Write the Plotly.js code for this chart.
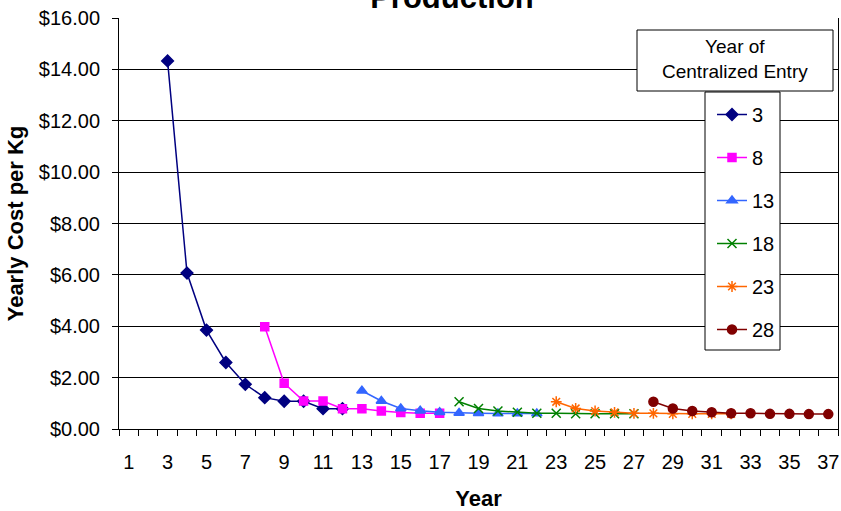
<!DOCTYPE html>
<html>
<head>
<meta charset="utf-8">
<script src="https://cdn.plot.ly/plotly-3.0.1.min.js"></script>
<style>html,body{margin:0;padding:0;background:#fff;}#chart{width:841px;height:511px;}</style>
</head>
<body>
<div id="chart"></div>
<script>
// ---- data ----
var seriesNames = ['3', '8', '13', '18', '23', '28'];
var years3  = [3, 4, 5, 6, 7, 8, 9, 10, 11, 12];
var cost3   = [14.33, 6.07, 3.85, 2.59, 1.74, 1.22, 1.08, 1.08, 0.79, 0.79];
var years8  = [8, 9, 10, 11, 12, 13, 14, 15, 16, 17];
var cost8   = [3.98, 1.78, 1.09, 1.09, 0.79, 0.79, 0.70, 0.64, 0.61, 0.61];
var years13 = [13, 14, 15, 16, 17, 18, 19, 20, 21, 22];
var cost13  = [1.49, 1.09, 0.80, 0.71, 0.65, 0.62, 0.61, 0.60, 0.60, 0.60];
var years18 = [18, 19, 20, 21, 22, 23, 24, 25, 26, 27];
var cost18  = [1.06, 0.80, 0.70, 0.65, 0.61, 0.61, 0.59, 0.59, 0.59, 0.59];
var years23 = [23, 24, 25, 26, 27, 28, 29, 30, 31, 32];
var cost23  = [1.06, 0.80, 0.70, 0.65, 0.61, 0.61, 0.59, 0.59, 0.59, 0.59];
var years28 = [28, 29, 30, 31, 32, 33, 34, 35, 36, 37];
var cost28  = [1.06, 0.80, 0.70, 0.65, 0.61, 0.61, 0.59, 0.59, 0.58, 0.58];
var xTickVals = [1, 3, 5, 7, 9, 11, 13, 15, 17, 19, 21, 23, 25, 27, 29, 31, 33, 35, 37];
var yTickVals = [0, 2, 4, 6, 8, 10, 12, 14, 16];

var FONT = 'Liberation Sans, Arial, sans-serif';
var styles = [
  {color: '#000080', symbol: 'diamond', size: 9},
  {color: '#FF00FF', symbol: 'square', size: 8},
  {color: '#3366FF', symbol: 'triangle-up', size: 9},
  {color: '#008000', symbol: 'x-thin-open', size: 9},
  {color: '#FF6600', symbol: 'asterisk-open', size: 9},
  {color: '#800000', symbol: 'circle', size: 9}
];
var xs = [years3, years8, years13, years18, years23, years28];
var ys = [cost3, cost8, cost13, cost18, cost23, cost28];

var traces = seriesNames.map(function (n, i) {
  var s = styles[i];
  return {
    type: 'scatter', mode: 'lines+markers', name: n,
    x: xs[i], y: ys[i], legendgroup: 'g' + i,
    line: {color: s.color, width: 1.5},
    marker: {color: s.color, symbol: s.symbol, size: s.size,
             line: {color: s.color, width: 1.5}},
    hoverinfo: 'skip'
  };
});

// plot area in pixels
var L = 119, R = 838, T = 18, B = 429;
function px(x) { return (x - L) / (R - L); }
function py(y) { return (B - y) / (B - T); }

var layout = {
  width: 841, height: 511,
  margin: {l: L, r: 841 - R, t: T, b: 511 - B},
  paper_bgcolor: '#fff', plot_bgcolor: '#fff',
  font: {family: FONT, color: '#000', size: 20},
  showlegend: true,
  title: {text: 'Production', font: {family: FONT, size: 31, color: '#000', weight: 'bold'},
          xref: 'paper', yref: 'paper', x: px(452), xanchor: 'center', y: 1, yanchor: 'bottom',
          pad: {b: 10, t: 0, l: 0, r: 0}},
  xaxis: {
    type: 'linear', range: [0.5, 37.5],
    tickmode: 'array', tickvals: xTickVals, ticktext: xTickVals.map(String),
    ticks: '', showgrid: false, zeroline: false,
    showline: true, linecolor: '#000', linewidth: 1,
    ticklabelstandoff: 15,
    tickfont: {family: FONT, size: 20, color: '#000'},
    minor: {tick0: 0.5, dtick: 1, ticks: 'outside', ticklen: 6, tickcolor: '#000', tickwidth: 1, showgrid: false},
    title: {text: 'Year', font: {family: FONT, size: 22, color: '#000', weight: 'bold'}, standoff: 19},
    fixedrange: true
  },
  yaxis: {
    range: [0, 16], tickmode: 'array', tickvals: yTickVals,
    ticktext: yTickVals.map(function (v) { return '$' + v.toFixed(2); }),
    ticks: 'outside', ticklen: 6, tickcolor: '#000', tickwidth: 1,
    ticklabelstandoff: 8,
    showgrid: true, gridcolor: '#000', gridwidth: 1, zeroline: false,
    showline: true, linecolor: '#000', linewidth: 1, mirror: true,
    tickfont: {family: FONT, size: 20, color: '#000'},
    title: {text: 'Yearly Cost per Kg', font: {family: FONT, size: 22, color: '#000', weight: 'bold'}, standoff: 9},
    fixedrange: true
  },
  legend: {
    x: px(712), xanchor: 'left', xref: 'paper',
    y: py(95), yanchor: 'top', yref: 'paper',
    bgcolor: 'rgba(0,0,0,0)', borderwidth: 0,
    font: {family: FONT, size: 20, color: '#000'},
    tracegroupgap: 14, traceorder: 'grouped', itemwidth: 30
  },
  shapes: [
    {type: 'rect', xref: 'paper', yref: 'paper', x0: px(705), x1: px(780), y0: py(350), y1: py(92),
     line: {color: '#000', width: 1}, fillcolor: '#fff', layer: 'above'},
    {type: 'rect', xref: 'paper', yref: 'paper', x0: px(637), x1: px(833), y0: py(91), y1: py(30),
     line: {color: '#000', width: 1}, fillcolor: '#fff', layer: 'above'}
  ],
  annotations: [
    {xref: 'paper', yref: 'paper', x: px(735), y: py(59), xanchor: 'center', yanchor: 'middle',
     text: 'Year of<br>Centralized Entry', showarrow: false,
     font: {family: FONT, size: 19, color: '#000'}}
  ]
};

Plotly.newPlot('chart', traces, layout, {displayModeBar: false, staticPlot: true});
</script>
</body>
</html>
